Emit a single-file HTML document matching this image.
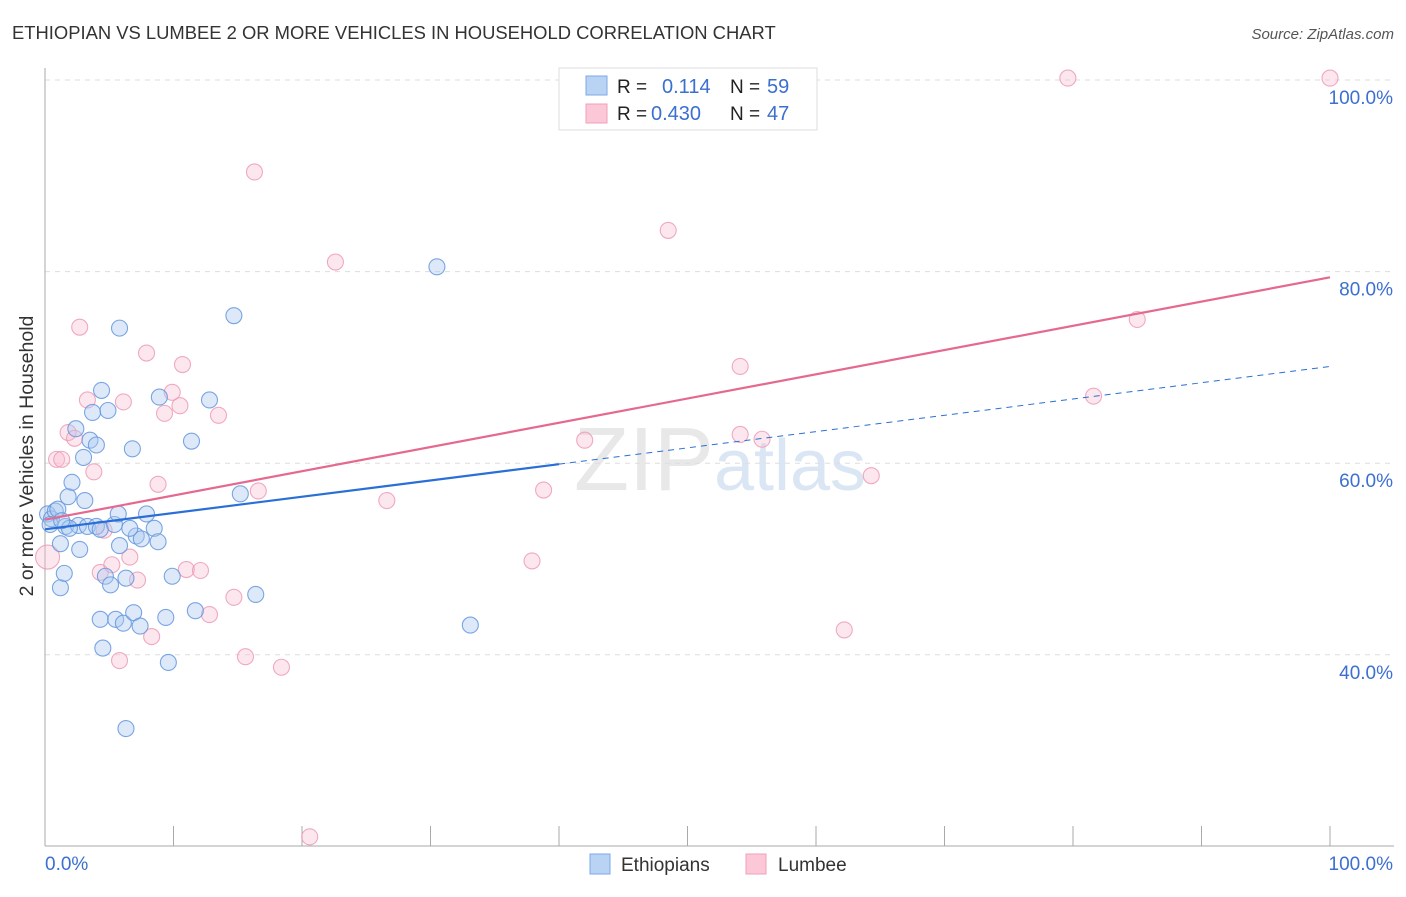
<!DOCTYPE html>
<html><head><meta charset="utf-8"><style>
body{margin:0;background:#fff;font-family:"Liberation Sans",sans-serif;}
svg text{font-family:"Liberation Sans",sans-serif;}
</style></head><body>
<svg id="chart" width="1406" height="892" viewBox="0 0 1406 892" xmlns="http://www.w3.org/2000/svg">
<text x="12" y="39" font-size="18.4" fill="#333">ETHIOPIAN VS LUMBEE 2 OR MORE VEHICLES IN HOUSEHOLD CORRELATION CHART</text>
<text x="1394" y="39" font-size="15" fill="#555" font-style="italic" text-anchor="end">Source: ZipAtlas.com</text>
<text x="33" y="456" font-size="19.5" fill="#333" text-anchor="middle" transform="rotate(-90 33 456)">2 or more Vehicles in Household</text>
<text x="720" y="490" font-size="90" fill="#e8e8e8" text-anchor="middle" font-family="Liberation Serif">ZIP<tspan fill="#dbe6f5" font-family="Liberation Sans" font-size="72">atlas</tspan></text>
<g id="grid"></g><g id="axes"></g><g id="pts"></g><g id="lines"></g>
<g>
<rect x="559" y="68" width="258" height="62" fill="#fff" stroke="#ddd"/>
<rect x="586" y="76" width="21" height="19" fill="#b9d3f4" stroke="#7ea8e4"/>
<rect x="586" y="104" width="21" height="19" fill="#fcc8d7" stroke="#eea0b8"/>
<text x="617" y="93" font-size="19" fill="#222">R = </text><text x="662" y="93" font-size="20" fill="#3b6fd0">0.114</text>
<text x="730" y="93" font-size="19" fill="#222">N = </text><text x="767" y="93" font-size="20" fill="#3b6fd0">59</text>
<text x="617" y="120" font-size="19" fill="#222">R = </text><text x="651" y="120" font-size="20" fill="#3b6fd0">0.430</text>
<text x="730" y="120" font-size="19" fill="#222">N = </text><text x="767" y="120" font-size="20" fill="#3b6fd0">47</text>
</g>
<g>
<rect x="590" y="854" width="20" height="20" fill="#b9d3f4" stroke="#7ea8e4"/>
<text x="621" y="871" font-size="19" fill="#333">Ethiopians</text>
<rect x="746" y="854" width="20" height="20" fill="#fcc8d7" stroke="#eea0b8"/>
<text x="778" y="871" font-size="19" fill="#333">Lumbee</text>
</g>
</svg>
<script>
const yTicks=[40,60,80,100];
const yTickLabels=["40.0%","60.0%","80.0%","100.0%"];
const blueX=[0.2,0.5,0.8,1.0,0.4,1.2,1.2,1.5,1.6,1.8,2.1,2.4,2.6,2.7,3.0,3.1,3.3,3.5,3.7,4.0,4.3,4.4,4.5,4.7,4.9,5.1,5.4,5.5,5.7,5.8,5.8,6.1,6.3,6.3,6.8,6.9,7.1,7.4,7.5,7.9,8.5,8.8,8.9,9.4,9.6,9.9,11.4,11.7,12.8,14.7,15.2,16.4,30.5,33.1,6.6,4.0,1.9,4.3,1.3];
const blueY=[54.7,54.2,55.0,55.2,53.6,51.6,47.0,48.5,53.4,56.5,58.0,63.6,53.5,51.0,60.6,56.1,53.4,62.4,65.3,61.9,43.7,67.6,40.7,48.2,65.5,47.3,53.6,43.7,54.7,74.1,51.4,43.3,48.0,32.3,61.5,44.4,52.4,43.0,52.1,54.7,53.2,51.8,66.9,43.9,39.2,48.2,62.3,44.6,66.6,75.4,56.8,46.3,80.5,43.1,53.2,53.4,53.2,53.1,54.0];
const pinkX=[0.2,0.9,1.3,1.8,2.3,2.7,3.3,3.8,4.6,4.3,5.2,5.8,6.1,6.6,7.2,7.9,8.8,9.3,9.9,10.5,10.7,11.0,12.1,12.8,13.5,14.7,15.6,16.3,16.6,18.4,20.6,22.6,26.6,37.9,38.8,42.0,48.5,54.1,54.1,55.8,62.2,64.3,79.6,81.6,85.0,100,8.3];
const pinkY=[50.2,60.4,60.4,63.2,62.6,74.2,66.6,59.1,53.0,48.6,49.4,39.4,66.4,50.2,47.8,71.5,57.8,65.2,67.4,66.0,70.3,48.9,48.8,44.2,65.0,46.0,39.8,90.4,57.1,38.7,21.0,81.0,56.1,49.8,57.2,62.4,84.3,70.1,63.0,62.5,42.6,58.7,100.2,67.0,75.0,100.2,41.9];
const W=1406,X0=45,X1=1330;
const xs=v=>X0+v*(X1-X0)/100, ys=v=>80+(100-v)*9.58;
const NS="http://www.w3.org/2000/svg";
function mk(t,a,p){const e=document.createElementNS(NS,t);for(const k in a)e.setAttribute(k,a[k]);document.getElementById(p).appendChild(e);return e;}
yTicks.forEach((t,i)=>{
 const g=mk("line",{x1:45,x2:1394,y1:ys(t),y2:ys(t),stroke:"#ddd","stroke-dasharray":"5,5"},"grid");
 
 
 const l=mk("text",{x:1393,y:ys(t)+24,"font-size":19,fill:"#3b6fd0","text-anchor":"end"},"axes");l.textContent=yTickLabels[i];
 
 
});
mk("line",{x1:45,x2:45,y1:68,y2:846,stroke:"#aaa"},"axes");
mk("line",{x1:45,x2:1394,y1:846,y2:846,stroke:"#aaa"},"axes");
for(let i=1;i<=10;i++){mk("line",{x1:45+i*128.5,x2:45+i*128.5,y1:826,y2:846,stroke:"#aaa"},"axes");}
let t=mk("text",{x:45,y:870,"font-size":19,fill:"#3b6fd0"},"axes");t.textContent="0.0%";


t=mk("text",{x:1393,y:870,"font-size":19,fill:"#3b6fd0","text-anchor":"end"},"axes");t.textContent="100.0%";


pinkX.forEach((x,i)=>{const c=mk("circle",{cx:xs(x),cy:ys(pinkY[i]),r:i==0?12:8,fill:"rgba(250,185,205,0.35)",stroke:"rgba(236,150,178,0.8)","stroke-width":1.1},"pts");
 
 });
blueX.forEach((x,i)=>{const c=mk("circle",{cx:xs(x),cy:ys(blueY[i]),r:8,fill:"rgba(170,200,240,0.4)",stroke:"rgba(100,150,222,0.85)","stroke-width":1.1},"pts");
 
 });
const bl=v=>53.1+v*0.17, pl=v=>54.1+v*0.253;
let e=mk("line",{x1:xs(0),y1:ys(bl(0)),x2:xs(40),y2:ys(bl(40)),stroke:"#2a6fd6","stroke-width":2.2},"lines");


e=mk("line",{x1:xs(40),y1:ys(bl(40)),x2:xs(100),y2:ys(bl(100)),stroke:"#2a6fd6","stroke-width":1,"stroke-dasharray":"6,5"},"lines");


e=mk("line",{x1:xs(0),y1:ys(pl(0)),x2:xs(100),y2:ys(pl(100)),stroke:"#e5698f","stroke-width":2.2},"lines");


</script>
</body></html>
